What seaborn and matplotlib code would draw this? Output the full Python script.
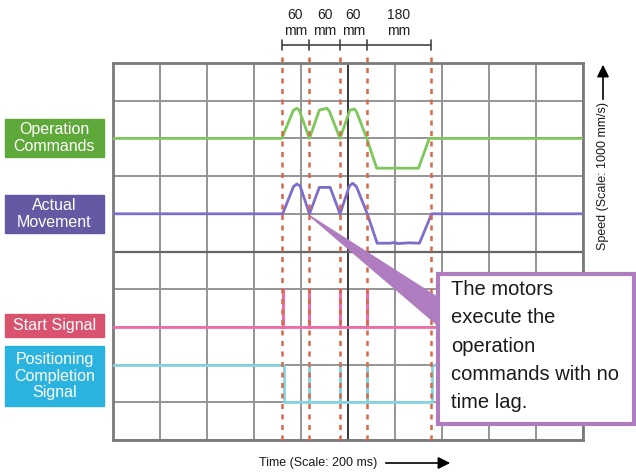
import pandas as pd
import seaborn as sns
from matplotlib import pyplot as plt
from matplotlib.patches import Rectangle, Polygon

# Zeitachse in Skalenteilen (1 Teil = 200 ms), Werte in Skalenteilen (0 unten .. 10 oben)
cmd_t = [0, 3.59, 3.84, 3.91, 3.96, 4.18, 4.39, 4.55, 4.60, 4.83,
         5.04, 5.14, 5.18, 5.40, 5.61, 6.50, 6.73, 10]
cmd_v = [8, 8, 8.75, 8.80, 8.75, 8, 8.75, 8.80, 8.73, 8,
         8.75, 8.78, 8.71, 8, 7.21, 7.21, 8, 8]

act_t = [0, 3.61, 3.84, 3.91, 3.98, 4.18, 4.39, 4.62, 4.83,
         5.03, 5.10, 5.18, 5.41, 5.62, 5.90, 6.00, 6.05, 6.30, 6.52, 6.78, 10]
act_v = [6, 6, 6.72, 6.79, 6.74, 6, 6.70, 6.70, 6,
         6.74, 6.81, 6.72, 6, 5.22, 5.22, 5.24, 5.21, 5.23, 5.22, 6, 6]

start_t = [0, 3.62, 3.62, 3.62, 4.17, 4.17, 4.17, 4.83, 4.83, 4.83,
           5.41, 5.41, 5.41, 10]
start_v = [3, 3, 4, 3, 3, 4, 3, 3, 4, 3, 3, 4, 3, 3]

done_t = [0, 3.64, 3.64, 4.17, 4.17, 4.17, 4.83, 4.83, 4.83,
          5.41, 5.41, 5.41, 6.79, 6.79, 10]
done_v = [2, 2, 1, 1, 2, 1, 1, 2, 1, 1, 2, 1, 1, 2, 2]

# rote Markierungen und Wegabschnitte oben
mark_t = [3.59, 4.17, 4.83, 5.40, 6.77]
seg_mm = [60, 60, 60, 180]

labels = ['Operation\nCommands', 'Actual\nMovement', 'Start Signal',
          'Positioning\nCompletion\nSignal']
note = 'The motors\nexecute the\noperation\ncommands with no\ntime lag.'

W, H = 636, 472


def px(x, y):
    # Pixel (oben links) -> Figure-Koordinaten
    return x / W, 1 - y / H


sns.set_style('white')
plt.rcParams['font.family'] = ['Liberation Sans', 'DejaVu Sans']

fig = plt.figure(figsize=(W / 100, H / 100), dpi=100)
ax = fig.add_axes([113 / W, 32 / H, 470 / W, 377 / H])

ax.set_xlim(0, 10)
ax.set_ylim(0, 10)
ax.set_xticks(range(11))
ax.set_yticks(range(11))
ax.set_xticklabels([])
ax.set_yticklabels([])
ax.tick_params(length=0)
ax.grid(True, color='#959595', lw=1.4)
for s in ax.spines.values():
    s.set_color('#7a7a7a')
    s.set_linewidth(2)
ax.axvline(5, color='#3a3a3a', lw=1.4, zorder=1)
ax.axhline(5, color='#666666', lw=1.6, zorder=1)

kw = dict(ax=ax, sort=False, estimator=None, lw=2, zorder=3)
sns.lineplot(x=cmd_t, y=cmd_v, color='#7cc85a', **kw)
sns.lineplot(x=act_t, y=act_v, color='#7f6ccb', **kw)
sns.lineplot(x=start_t, y=start_v, color='#f06ca6', **kw)
sns.lineplot(x=done_t, y=done_v, color='#86d4dd', **kw)

for t in mark_t:
    ax.plot([t, t], [0, 10.28], color='#d4694c', lw=1.8, ls=(0, (2, 2.2)),
            clip_on=False, zorder=4)

# Bemassung oben
dim_v = (440 - 45) / 37.7
ax.plot([mark_t[0], mark_t[-1]], [dim_v, dim_v], color='#444444', lw=1.2,
        clip_on=False)
for t in mark_t:
    ax.plot([t, t], [dim_v - 0.12, dim_v + 0.12], color='#444444', lw=1.2,
            clip_on=False)
for i, mm in enumerate(seg_mm):
    xm = (mark_t[i] + mark_t[i + 1]) / 2
    ax.text(xm, (440 - 23) / 37.7, f'{mm}\nmm', ha='center', va='center',
            fontsize=10, linespacing=1.15, color='#222222')

# farbige Beschriftungen links
boxes = [(119, 157, '#5ea93a'), (195, 233, '#645aa4'),
         (314, 337, '#d9536f'), (346, 406, '#2bb3e0')]
for (y0, y1, c), lab in zip(boxes, labels):
    x0, yb = px(5, y1)
    fig.add_artist(Rectangle((x0, yb), 99 / W, (y1 - y0) / H, color=c,
                             transform=fig.transFigure, zorder=1))
    xc, yc = px(54.5, (y0 + y1) / 2)
    fig.text(xc, yc, lab, ha='center', va='center', color='white',
             fontsize=11.5, linespacing=1.15)

# Hinweis mit Zeiger
fig.add_artist(Polygon([px(310, 216), px(440, 299), px(440, 327)],
                       closed=True, color='#b07cc0', transform=fig.transFigure,
                       zorder=2))
bx, by = px(438, 424)
fig.add_artist(Rectangle((bx, by), 196 / W, 150 / H, facecolor='white',
                         edgecolor='#b07cc0', lw=3, transform=fig.transFigure,
                         zorder=2.5))
tx, ty = px(451, 280)
fig.text(tx, ty, note, ha='left', va='top', fontsize=14.5, linespacing=1.62,
         color='#1a1a1a', zorder=3)

# Achsenbeschriftungen mit Pfeilen
fig.text(*px(603, 176), 'Speed (Scale: 1000 mm/s)', rotation=90,
         ha='center', va='center', fontsize=9, color='#1a1a1a')
fig.add_artist(plt.Annotation('', xy=px(603, 62), xytext=px(603, 102),
                              xycoords='figure fraction',
                              textcoords='figure fraction',
                              arrowprops=dict(arrowstyle='-|>', color='black',
                                              lw=1.2, mutation_scale=18)))
fig.text(*px(318, 463), 'Time (Scale: 200 ms)', ha='center', va='center',
         fontsize=9, color='#1a1a1a')
fig.add_artist(plt.Annotation('', xy=px(453, 463), xytext=px(383, 463),
                              xycoords='figure fraction',
                              textcoords='figure fraction',
                              arrowprops=dict(arrowstyle='-|>', color='black',
                                              lw=1.2, mutation_scale=18)))

plt.savefig('out.png', dpi=100)
